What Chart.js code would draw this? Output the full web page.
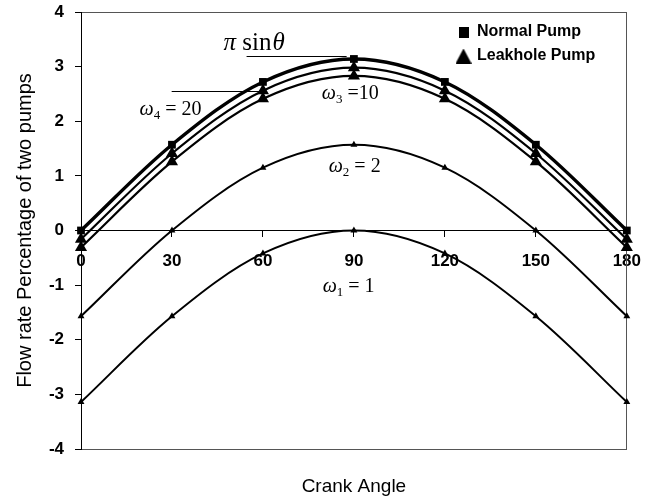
<!DOCTYPE html>
<html><head><meta charset="utf-8">
<script src="https://cdn.jsdelivr.net/npm/chart.js@4.4.0/dist/chart.umd.min.js"></script>
<style>html,body{margin:0;padding:0;background:#fff;}#wrap{width:656px;height:499px;position:relative;}</style>
</head><body><div id="wrap"><canvas id="c" width="656" height="499"></canvas></div>
<script>
// ---- data ----
const crankAngles = [0, 30, 60, 90, 120, 150, 180];
const normalPump  = [0, 1.57, 2.72, 3.14, 2.72, 1.57, 0];
const leakW20     = [-0.16, 1.41, 2.56, 2.98, 2.56, 1.41, -0.16];
const leakW10     = [-0.31, 1.26, 2.41, 2.83, 2.41, 1.26, -0.31];
const leakW2      = [-1.57, 0, 1.15, 1.57, 1.15, 0, -1.57];
const leakW1      = [-3.14, -1.57, -0.42, 0, -0.42, -1.57, -3.14];
const xTickValues = [0, 30, 60, 90, 120, 150, 180];
const yTickValues = [-4, -3, -2, -1, 0, 1, 2, 3, 4];
const legendNames = ['Normal Pump', 'Leakhole Pump'];

const pts = arr => crankAngles.map((x, i) => ({x: x, y: arr[i]}));
const SANS = '"Liberation Sans", Arial, sans-serif';
const SERIF = '"Liberation Serif", "Times New Roman", serif';

function ds(label, arr, style, r, w) {
  return {label, data: pts(arr), borderColor: '#000', backgroundColor: '#000',
    borderWidth: w, pointStyle: style, pointRadius: r, pointBorderWidth: 0,
    pointBackgroundColor: '#000', tension: 0.33, clip: false, fill: false};
}

// legend icons (style only)
function icon(w, h, draw) {
  const c = document.createElement('canvas'); c.width = w; c.height = h;
  const g = c.getContext('2d'); g.fillStyle = '#000'; draw(g, w, h); return c;
}
const squareIcon = icon(10, 11, (g, w, h) => g.fillRect(0, 0, w, h));
const triIcon = icon(16, 15, (g, w, h) => { g.beginPath(); g.moveTo(w / 2, 0); g.lineTo(w, h); g.lineTo(0, h); g.closePath(); g.fill(); });

const annotations = {
  id: 'annot',
  afterDatasetsDraw(chart) {
    const {ctx, scales: {x, y}} = chart;
    const X = v => x.getPixelForValue(v), Y = v => y.getPixelForValue(v);
    ctx.save();
    ctx.fillStyle = '#000'; ctx.strokeStyle = '#000'; ctx.lineWidth = 1;
    ctx.textBaseline = 'alphabetic'; ctx.textAlign = 'left';
    const line = (x1, x2, yv) => { ctx.beginPath(); const py = Math.round(Y(yv)) + 0.5; ctx.moveTo(X(x1), py); ctx.lineTo(X(x2), py); ctx.stroke(); };
    line(54.6, 87.6, 3.195);
    line(29.9, 61.2, 2.554);
    let px = X(47.0), py = Y(3.30);
    ctx.font = 'italic 25px ' + SERIF; ctx.fillText('\u03c0', px, py); px += ctx.measureText('\u03c0 ').width;
    ctx.font = '25px ' + SERIF; ctx.fillText('sin', px, py); px += ctx.measureText('sin').width + 1;
    ctx.font = 'italic 25px ' + SERIF; ctx.fillText('\u03b8', px, py);
    const omega = (xv, yv, sub, rest) => {
      let ox = X(xv); const oy = Y(yv);
      ctx.font = 'italic 20px ' + SERIF; ctx.fillText('\u03c9', ox, oy); ox += ctx.measureText('\u03c9').width;
      ctx.font = '13px ' + SERIF; ctx.fillText(sub, ox, oy + 4); ox += ctx.measureText(sub).width;
      ctx.font = '20px ' + SERIF; ctx.fillText(rest, ox, oy);
    };
    omega(19.3, 2.11, '4', ' = 20');
    omega(79.4, 2.41, '3', ' =10');
    omega(81.7, 1.07, '2', ' = 2');
    omega(79.7, -1.13, '1', ' = 1');
    ctx.restore();
  }
};

const placeLegend = {
  id: 'placeLegend',
  afterLayout(chart) { if (chart.legend) { chart.legend.left = 450; chart.legend.top = 16; } }
};
const noPad = s => { s.paddingTop = 0; s.paddingBottom = 0; };

new Chart(document.getElementById('c'), {
  type: 'line',
  data: {
    datasets: [
      ds('Normal Pump', normalPump, 'rect', 5.5, 3.4),
      ds('Leakhole Pump w4=20', leakW20, 'triangle', 7, 2.2),
      ds('Leakhole Pump w3=10', leakW10, 'triangle', 7, 2.2),
      ds('Leakhole Pump w2=2', leakW2, 'triangle', 4, 2),
      ds('Leakhole Pump w1=1', leakW1, 'triangle', 4, 2)
    ]
  },
  options: {
    responsive: false, animation: false, devicePixelRatio: 1,
    layout: {padding: 0},
    plugins: {
      tooltip: {enabled: false},
      legend: {
        position: 'chartArea', align: 'start',
        labels: {
          usePointStyle: true, boxWidth: 11, boxHeight: 11, padding: 8,
          color: '#000', font: {family: SANS, size: 16, weight: 'bold'},
          generateLabels: () => [
            {text: legendNames[0], pointStyle: squareIcon, fillStyle: '#000', strokeStyle: '#000', lineWidth: 0, fontColor: '#000', datasetIndex: 0},
            {text: legendNames[1], pointStyle: triIcon, fillStyle: '#000', strokeStyle: '#000', lineWidth: 0, fontColor: '#000', datasetIndex: 1}
          ]
        }
      }
    },
    scales: {
      x: {
        type: 'linear', min: 0, max: 180, position: {y: 0},
        afterBuildTicks: s => { s.ticks = xTickValues.map(v => ({value: v})); },
        afterFit: s => { s.height = 0; },
        grid: {drawOnChartArea: false, tickLength: 6, color: '#000'},
        border: {color: '#000', width: 1},
        ticks: {color: '#000', padding: 15, maxRotation: 0, font: {family: SANS, size: 17, weight: 'bold'}}
      },
      xB: {
        type: 'linear', min: 0, max: 180, position: 'bottom',
        afterFit: s => { s.height = 50; },
        grid: {display: false}, ticks: {display: false},
        border: {display: true, color: '#555', width: 1},
        title: {display: true, text: 'Crank Angle', color: '#000', padding: {top: 0, bottom: 1}, font: {family: SANS, size: 19}}
      },
      xT: {
        type: 'linear', min: 0, max: 180, position: 'top',
        afterFit: s => { s.height = 12; },
        grid: {display: false}, ticks: {display: false},
        border: {display: true, color: '#555', width: 1}
      },
      y: {
        type: 'linear', min: -4, max: 4, position: 'left',
        afterBuildTicks: s => { s.ticks = yTickValues.map(v => ({value: v})); },
        afterFit: s => { s.width = 81; noPad(s); },
        grid: {drawOnChartArea: false, tickLength: 6, color: '#000'},
        border: {color: '#000', width: 1},
        ticks: {color: '#000', padding: 11, font: {family: SANS, size: 17, weight: 'bold'}},
        title: {display: true, text: 'Flow rate Percentage of two pumps', color: '#000', padding: {top: 13, bottom: 0}, font: {family: SANS, size: 20}}
      },
      yR: {
        type: 'linear', min: -4, max: 4, position: 'right',
        afterFit: s => { s.width = 29; noPad(s); },
        grid: {display: false}, ticks: {display: false},
        border: {display: true, color: '#555', width: 1}
      }
    }
  },
  plugins: [annotations, placeLegend]
});
</script>
</body></html>
